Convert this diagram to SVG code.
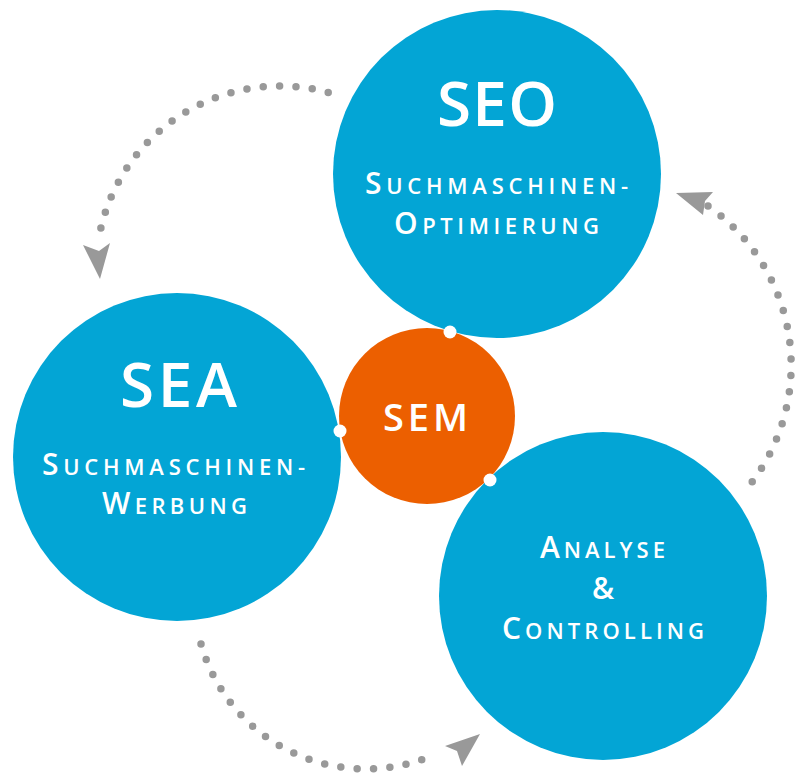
<svg xmlns="http://www.w3.org/2000/svg" width="807" height="774" viewBox="0 0 807 774">
<style>
.blue{fill:#03a5d5}
.orange{fill:#ec5f00}
.t{font-family:"Open Sans","Liberation Sans",sans-serif;fill:#fff;text-anchor:middle;font-weight:600}
.big{font-size:62px}
.cap{font-size:30px}
.sm{font-size:22px}
.dots{fill:none;stroke:#999;stroke-width:7.5;stroke-linecap:round;stroke-dasharray:0 16.4}
.head{fill:#999}
.pin{fill:#fff}
</style>
<rect width="807" height="774" fill="#fff"/>
<g id="connectors">
<path class="dots" d="M328.2,92.4 A184,184 0 0 0 98,243.1"/>
<polygon class="head" points="100,279 83,245 99,251 110,243"/>
<path class="dots" d="M708,206 A194,194 0 0 1 744,492"/>
<polygon class="head" points="676,193 713,192 705,201 703,215"/>
<path class="dots" d="M201,644 A171.4,171.4 0 0 0 436,754"/>
<polygon class="head" points="480,734 445,746 457,751 462,766"/>
</g>
<g id="seo">
<circle class="blue" cx="497" cy="174" r="164"/>
<text class="t big" x="497" y="126" textLength="120">SEO</text>
<text class="t" x="496.5" y="194" textLength="263"><tspan class="cap">S</tspan><tspan class="sm">UCHMASCHINEN-</tspan></text>
<text class="t" x="496.5" y="234" textLength="205"><tspan class="cap">O</tspan><tspan class="sm">PTIMIERUNG</tspan></text>
</g>
<g id="sea">
<circle class="blue" cx="177" cy="457" r="164"/>
<text class="t big" x="178.5" y="407" textLength="117">SEA</text>
<text class="t" x="173.5" y="475" textLength="263"><tspan class="cap">S</tspan><tspan class="sm">UCHMASCHINEN-</tspan></text>
<text class="t" x="174.5" y="514" textLength="145"><tspan class="cap">W</tspan><tspan class="sm">ERBUNG</tspan></text>
</g>
<g id="analyse">
<circle class="blue" cx="603" cy="596" r="164"/>
<text class="t" x="602.5" y="558" textLength="125"><tspan class="cap">A</tspan><tspan class="sm">NALYSE</tspan></text>
<text class="t cap" x="603" y="599">&amp;</text>
<text class="t" x="603" y="639" textLength="202"><tspan class="cap">C</tspan><tspan class="sm">ONTROLLING</tspan></text>
</g>
<g id="sem">
<circle class="orange" cx="427" cy="416" r="88"/>
<text class="t" x="425.5" y="431" font-size="38" textLength="85">SEM</text>
<circle class="pin" cx="450" cy="332" r="6.5"/>
<circle class="pin" cx="340" cy="431" r="6.5"/>
<circle class="pin" cx="490" cy="480" r="6.5"/>
</g>
</svg>
